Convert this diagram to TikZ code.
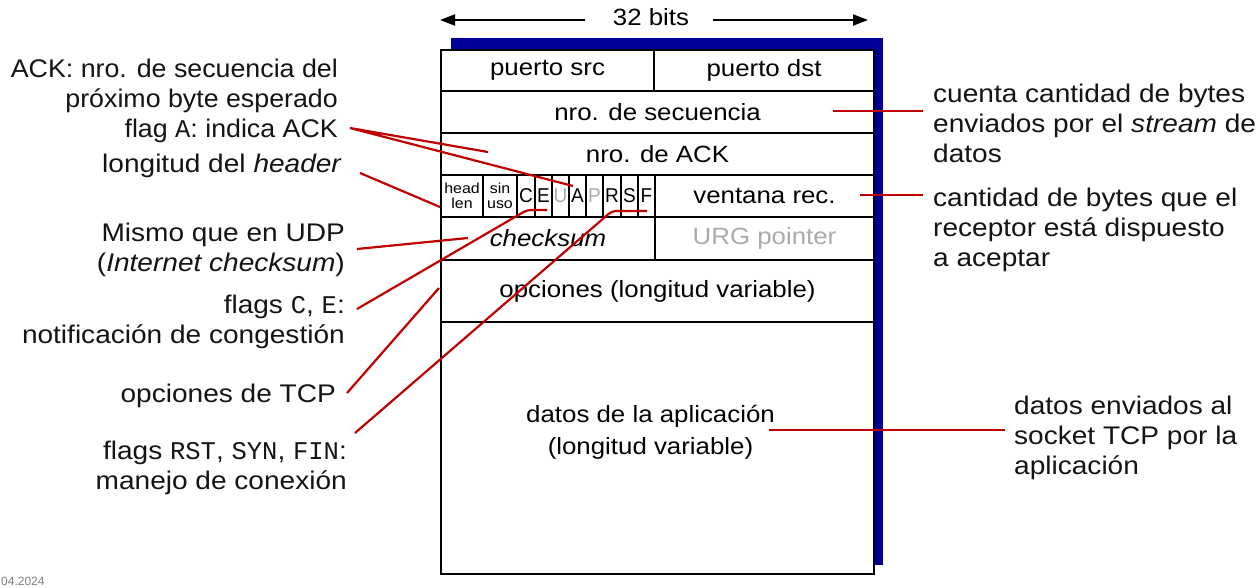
\documentclass[tikz,border=0pt]{standalone}
\usepackage{fontspec}
\usetikzlibrary{arrows.meta}
\setmainfont{Liberation Sans}
\newfontfamily\boxfont{Liberation Sans}[FakeStretch=1.1]
\newfontfamily\flagfont{Liberation Sans}[FakeStretch=0.95]
\newfontfamily\labfont{Liberation Sans}[FakeStretch=1.1]
\newfontfamily\labfontn{Liberation Sans}[FakeStretch=1.05]
\newfontfamily\labmono{Liberation Mono}[FakeStretch=1.0]
\definecolor{redl}{RGB}{192,0,0}
\definecolor{navyb}{RGB}{0,0,153}
\definecolor{txt}{RGB}{20,20,20}
\definecolor{faint}{RGB}{170,170,170}
\begin{document}
\begin{tikzpicture}[x=1pt,y=-1pt,
  field/.style={draw=black, line width=2pt, inner sep=0pt, anchor=center,
    font=\boxfont\fontsize{23.5}{30}\selectfont},
  tiny/.style={font=\boxfont\fontsize{14.5}{15}\selectfont, align=center},
  flagc/.style={font=\flagfont\fontsize{20}{20}\selectfont},
  boxtext/.style={inner sep=0pt, font=\boxfont\fontsize{23.5}{32}\selectfont},
  lab/.style={inner sep=0pt, text=txt, font=\labfont\fontsize{25.5}{30}\selectfont},
  redline/.style={draw=redl, line width=2.2pt},
  dimarrow/.style={line width=2pt, -{Triangle[length=15pt,width=11pt]}}
]
\useasboundingbox (0,0) rectangle (1256,587);
\fill[white] (0,0) rectangle (1256,587);

% 32 bits
\node[boxtext] (bits) at (651,17) {32 bits};
\coordinate (bl0) at (585,20);
\coordinate (bl) at (440,20);
\coordinate (br0) at (713,20);
\coordinate (br) at (868,20);
\draw[dimarrow] (bl0) -- (bl);
\draw[dimarrow] (br0) -- (br);

% shadow and box
\fill[navyb] (451,38) rectangle (883,565);
\fill[white] (441,50) rectangle (874,574);

\node[field, minimum width=213pt, minimum height=41pt] (src) at (547.5,70.5) {puerto src};
\node[field, minimum width=220pt, minimum height=41pt] (dst) at (764,70.5) {puerto dst};
\node[field, minimum width=433pt, minimum height=42pt] (seq) at (657.5,112) {nro. de secuencia};
\node[field, minimum width=433pt, minimum height=42pt] (ack) at (657.5,154) {nro. de ACK};

\node[field, tiny, minimum width=42pt, minimum height=42pt] (hlen) at (462,196) {head\\len};
\node[field, tiny, minimum width=34pt, minimum height=42pt] (unused) at (500,196) {sin\\uso};
\node[field, flagc, minimum width=18pt, minimum height=42pt] (fc) at (526,196) {C};
\node[field, flagc, minimum width=17pt, minimum height=42pt] (fe) at (543.5,196) {E};
\node[field, flagc, minimum width=17pt, minimum height=42pt, text=faint] (fu) at (560.5,196) {U};
\node[field, flagc, minimum width=17pt, minimum height=42pt] (fa) at (577.5,196) {A};
\node[field, flagc, minimum width=17pt, minimum height=42pt, text=faint] (fp) at (594.5,196) {P};
\node[field, flagc, minimum width=18pt, minimum height=42pt] (fr) at (612,196) {R};
\node[field, flagc, minimum width=17pt, minimum height=42pt] (fs) at (629.5,196) {S};
\node[field, flagc, minimum width=17pt, minimum height=42pt] (ff) at (646.5,196) {F};
\node[field, minimum width=219pt, minimum height=42pt] (win) at (764.5,196) {ventana rec.};

\node[field, minimum width=214pt, minimum height=43pt] (cks) at (548,238.5) {\itshape checksum};
\node[field, minimum width=219pt, minimum height=43pt, text=faint] (urg) at (764.5,238.5) {URG pointer};
\node[field, minimum width=433pt, minimum height=62pt] (opt) at (657.5,291) {opciones (longitud variable)};
\node[field, minimum width=433pt, minimum height=252pt] (data) at (657.5,448) {};
\node[boxtext, align=center] (datatxt) at (650.5,432) {datos de la aplicación\\(longitud variable)};

% left labels (anchor base = baseline of last line)
\node[lab, font=\labfontn\fontsize{25.5}{30}\selectfont, align=right, anchor=base east] (acklab) at (338,137) {ACK: nro. de secuencia del\\próximo byte esperado\\flag {\labmono A}: indica ACK};
\node[lab, anchor=base east] (hdrlab) at (342,172) {longitud del \textit{header}};
\node[lab, align=right, anchor=base east] (udplab) at (345,271) {Mismo que en UDP\\(\textit{Internet checksum})};
\node[lab, align=right, anchor=base east] (celab) at (345,343) {flags {\labmono C}, {\labmono E}:\\notificación de congestión};
\node[lab, anchor=base east] (optlab) at (336,402) {opciones de TCP};
\node[lab, align=right, anchor=base east] (rstlab) at (347,489) {flags {\labmono RST}, {\labmono SYN}, {\labmono FIN}:\\manejo de conexión};

% right labels
\node[lab, align=left, anchor=base west] (seqlab) at (933,162) {cuenta cantidad de bytes\\enviados por el \textit{stream} de\\datos};
\node[lab, align=left, anchor=base west] (winlab) at (933,266) {cantidad de bytes que el\\receptor está dispuesto\\a aceptar};
\node[lab, align=left, anchor=base west] (datalab) at (1014,474) {datos enviados al\\socket TCP por la\\aplicación};

% date fragment
\node[inner sep=0pt, anchor=base west, text=gray, font=\fontsize{12}{12}\selectfont] (date) at (1,585) {04.2024};

% red connectors
\coordinate (ackS) at (350,128);
\coordinate (ackE1) at (488,152);
\coordinate (ackE2) at (573,186);
\draw[redline] (ackE1) -- (ackS) -- (ackE2);
\coordinate (hdrS) at (360,173);
\coordinate (hdrE) at (440,207);
\draw[redline] (hdrS) -- (hdrE);
\coordinate (udpS) at (357,249);
\coordinate (udpE) at (468,238);
\draw[redline] (udpS) -- (udpE);
\coordinate (ceS) at (357,309);
\coordinate (ceM) at (527,210);
\coordinate (ceE) at (547,210);
\draw[redline, rounded corners=4pt] (ceS) -- (ceM) -- (ceE);
\coordinate (optS) at (347,393);
\coordinate (optE) at (439,288);
\draw[redline] (optS) -- (optE);
\coordinate (rstS) at (355,433);
\coordinate (rstM) at (612,211);
\coordinate (rstE) at (647,211);
\draw[redline, rounded corners=4pt] (rstS) -- (rstM) -- (rstE);
\coordinate (seqS) at (833,111);
\coordinate (seqE) at (923,111);
\draw[redline] (seqS) -- (seqE);
\coordinate (winS) at (860,195);
\coordinate (winE) at (923,195);
\draw[redline] (winS) -- (winE);
\coordinate (dataS) at (769,430);
\coordinate (dataE) at (1005,430);
\draw[redline] (dataS) -- (dataE);
\end{tikzpicture}
\end{document}
